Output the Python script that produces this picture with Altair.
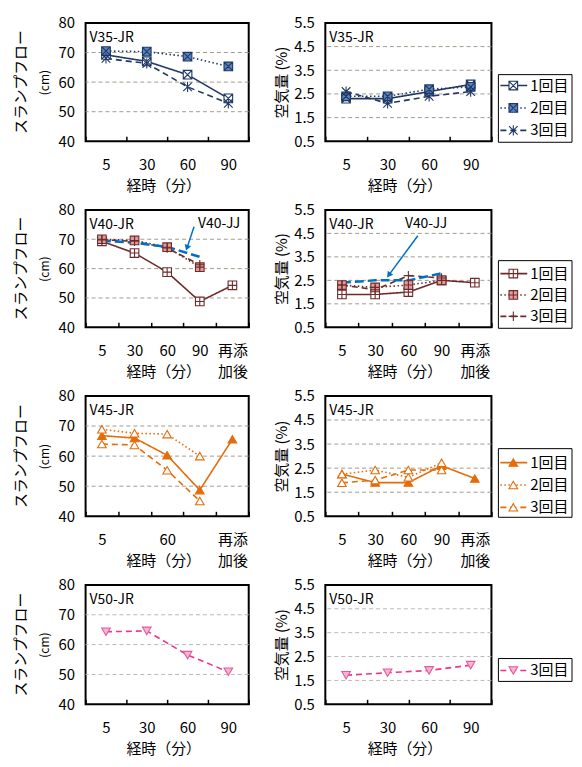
import math
import altair as alt
import pandas as pd

FONT = "Noto Sans CJK JP"

# ---------------- data ----------------
cats4 = ["5", "30", "60", "90"]
cats5 = ["5", "30", "60", "90", "再添加後"]
series = ["1回目", "2回目", "3回目"]
panel_labels = ["V35-JR", "V40-JR", "V45-JR", "V50-JR"]
jj_label = "V40-JJ"

slump_ticks = [40, 50, 60, 70, 80]
slump_grid = [50, 60, 70]
air_ticks = [0.5, 1.5, 2.5, 3.5, 4.5, 5.5]
air_grid = [1.5, 2.5, 3.5, 4.5]

v35_slump_1 = [69.2, 67.0, 62.5, 54.5]
v35_slump_2 = [70.5, 70.3, 68.6, 65.3]
v35_slump_3 = [68.0, 66.3, 58.4, 52.8]
v35_air_1 = [2.3, 2.3, 2.6, 2.9]
v35_air_2 = [2.4, 2.4, 2.7, 2.8]
v35_air_3 = [2.6, 2.1, 2.4, 2.6]

v40_slump_1 = [69.3, 65.3, 58.8, 48.8, 54.3]
v40_slump_2 = [70.0, 69.6, 67.3, 60.5]
v40_slump_3 = [69.8, 69.3, 67.0, 61.3]
v40jj_slump = [69.5, 68.8, 67.4, 64.0]
v40_air_1 = [1.9, 1.9, 2.0, 2.5, 2.4]
v40_air_2 = [2.3, 2.2, 2.3, 2.5]
v40_air_3 = [2.3, 2.1, 2.7, 2.6]
v40jj_air = [2.4, 2.5, 2.5, 2.8]

v45_slump_1 = [66.8, 66.0, 60.3, 48.7, 65.6]
v45_slump_2 = [68.9, 67.6, 67.3, 60.0]
v45_slump_3 = [64.0, 63.7, 55.3, 45.1]
v45_air_1 = [2.26, 1.9, 1.9, 2.6, 2.07]
v45_air_2 = [2.25, 2.42, 2.12, 2.72]
v45_air_3 = [1.89, 2.0, 2.42, 2.42]

v50_slump_3 = [64.3, 64.6, 56.5, 50.9]
v50_air_3 = [1.72, 1.82, 1.92, 2.14]

# ---------------- styles ----------------
DASHES = [[1, 0], [1.5, 2.5], [6, 4]]
P_XBOX = "M-1,-1H1V1H-1Z M-1,-1L1,1 M1,-1L-1,1"
P_AST = "M-1,-1L1,1 M1,-1L-1,1 M0,-1.2V1.2"
P_PBOX = "M-1,-1H1V1H-1Z M0,-1V1 M-1,0H1"
P_PLUS = "M0,-1.1V1.1 M-1.1,0H1.1"

ROWS = [
    dict(label=panel_labels[0], cats=cats4, h=119, color="#1F3864",
         fills=["#FFFFFF", "#5C83BE", "#1F3864"], shapes=[P_XBOX, P_XBOX, P_AST],
         grid="#A39A8C",
         slump={"1回目": v35_slump_1, "2回目": v35_slump_2, "3回目": v35_slump_3},
         air={"1回目": v35_air_1, "2回目": v35_air_2, "3回目": v35_air_3},
         leg=series, leg_range=[63, 108], box=(52, 120), hide=False),
    dict(label=panel_labels[1], cats=cats5, h=118, color="#6E2B2B",
         fills=["#FFFFFF", "#E39C9C", "#6E2B2B"], shapes=[P_PBOX, P_PBOX, P_PLUS],
         grid="#A39A8C",
         slump={"1回目": v40_slump_1, "2回目": v40_slump_2, "3回目": v40_slump_3},
         air={"1回目": v40_air_1, "2回目": v40_air_2, "3回目": v40_air_3},
         jj_slump=v40jj_slump, jj_air=v40jj_air,
         leg=series, leg_range=[64, 107], box=(51, 119), hide=False),
    dict(label=panel_labels[2], cats=cats5, h=121, color="#E46C0A",
         fills=["#E46C0A", "#FFFFFF", "#FFFFFF"],
         shapes=["triangle-up", "triangle-up", "triangle-up"],
         grid="#A39A8C",
         slump={"1回目": v45_slump_1, "2回目": v45_slump_2, "3回目": v45_slump_3},
         air={"1回目": v45_air_1, "2回目": v45_air_2, "3回目": v45_air_3},
         leg=series, leg_range=[67, 112], box=(53, 122), hide=True),
    dict(label=panel_labels[3], cats=cats4, h=120, color="#F0338F",
         fills=["#F7B5D5", "#F7B5D5", "#F7B5D5"],
         shapes=["triangle-down", "triangle-down", "triangle-down"],
         grid="#B8B8B8", mstroke="#E05A9C",
         slump={"3回目": v50_slump_3}, air={"3回目": v50_air_3},
         leg=["3回目"], leg_range=[86, 86], box=(74, 97), hide=False),
]

JJ_BLUE = "#0070C0"


def long_df(cats, vals_by_series):
    recs = []
    for s, vals in vals_by_series.items():
        for c, v in zip(cats, vals):
            recs.append({"cat": c, "series": s, "value": v})
    return pd.DataFrame(recs)


def arrow_layers(start, end):
    dx, dy = end[0] - start[0], end[1] - start[1]
    ang = math.degrees(math.atan2(dx, -dy)) % 360
    L = math.hypot(dx, dy)
    cx, cy = end[0] - 3 * dx / L, end[1] - 3 * dy / L
    d = pd.DataFrame({"t": [jj_label]})
    rule = alt.Chart(d).mark_rule(color=JJ_BLUE, strokeWidth=1.5).encode(
        x=alt.value(start[0]), y=alt.value(start[1]),
        x2=alt.value(cx), y2=alt.value(cy))
    head = alt.Chart(d).mark_point(shape="triangle-up", filled=True, fill=JJ_BLUE,
                                   opacity=1, size=45, angle=ang, strokeWidth=0).encode(
        x=alt.value(cx), y=alt.value(cy))
    return [rule, head]


def panel(row, kind, w):
    h = row["h"]
    cats = row["cats"]
    c = row["color"]
    if kind == "slump":
        domain, ticks, grid, fmt = [40, 80], slump_ticks, slump_grid, ".0f"
        data, jj = row["slump"], row.get("jj_slump")
        ytitle, ytsize, ytpad = "(cm)", 12, 7
    else:
        domain, ticks, grid, fmt = [0.5, 5.5], air_ticks, air_grid, ".1f"
        data, jj = row["air"], row.get("jj_air")
        ytitle, ytsize, ytpad = "空気量 (%)", 15, 4

    df = long_df(cats, data)
    base_expr = "datum.label == '再添加後' ? ['再添', '加後'] : datum.label"
    if row["hide"] and kind == "slump":
        label_expr = "(datum.label == '30' || datum.label == '90') ? '' : (" + base_expr + ")"
    else:
        label_expr = base_expr

    xaxis = alt.Axis(title="経時（分）", domain=False, ticks=True, tickSize=5,
                     tickBand="extent", tickColor="black", tickWidth=1.5, offset=-5,
                     labelAngle=0, labelFontSize=15, labelPadding=16,
                     labelBaseline="top", labelExpr=label_expr, labelLineHeight=21,
                     titleFontSize=15, titleFontWeight="normal", titleY=49,
                     titleX=w / 2 - 4, titleBaseline="middle", grid=False)
    x = alt.X("cat:N", sort=cats, bandPosition=0.5,
              scale=alt.Scale(type="band", domain=cats, paddingInner=0, paddingOuter=0),
              axis=xaxis)
    yscale = alt.Scale(domain=domain, nice=False, zero=False)
    yaxis = alt.Axis(values=ticks, format=fmt, domain=False, ticks=False, grid=False,
                     labelFontSize=15, labelPadding=11, title=ytitle,
                     titleFontSize=ytsize, titlePadding=ytpad, titleFontWeight="normal")
    y = alt.Y("value:Q", scale=yscale, axis=yaxis)
    dash = alt.StrokeDash("series:N", scale=alt.Scale(domain=series, range=DASHES), legend=None)
    shape = alt.Shape("series:N", scale=alt.Scale(domain=series, range=row["shapes"]), legend=None)
    fill = alt.Fill("series:N", scale=alt.Scale(domain=series, range=row["fills"]), legend=None)
    mstroke = row.get("mstroke", c)

    layers = [
        alt.Chart(pd.DataFrame({"value": grid})).mark_rule(
            color=row["grid"], strokeDash=[4, 3], strokeWidth=1).encode(y=y),
        alt.Chart(df).mark_line(color=c, strokeWidth=1.6).encode(
            x=x, y=y, strokeDash=dash, detail="series:N"),
    ]
    if jj is not None:
        jdf = pd.DataFrame({"cat": cats[:len(jj)], "value": jj})
        layers.append(alt.Chart(jdf).mark_line(color=JJ_BLUE, strokeWidth=2.5,
                                               strokeDash=[9, 4]).encode(x=x, y=y))
    layers.append(alt.Chart(df).mark_point(filled=True, opacity=1, stroke=mstroke,
                                           strokeWidth=1.1, size=75).encode(
        x=x, y=y, shape=shape, fill=fill))
    layers.append(alt.Chart(pd.DataFrame({"t": [row["label"]]})).mark_text(
        align="left", baseline="middle", fontSize=14, color="black").encode(
        x=alt.value(4), y=alt.value(15), text="t:N"))
    if jj is not None:
        if kind == "slump":
            tx, start, end = 113, (109, 17), (101, 41)
        else:
            tx, start, end = 80, (93, 26), (62, 68)
        layers.append(alt.Chart(pd.DataFrame({"t": [jj_label]})).mark_text(
            align="left", baseline="middle", fontSize=14, color="black").encode(
            x=alt.value(tx), y=alt.value(14), text="t:N"))
        layers += arrow_layers(start, end)

    main = alt.layer(*layers)

    if kind == "slump":
        return main.properties(
            width=w, height=h,
            title=alt.TitleParams("スランプフロー", orient="left", anchor="middle",
                                  frame="group", fontSize=15, fontWeight="normal",
                                  offset=9, font=FONT))

    # legend (drawn to the right of the air-content panel)
    leg = row["leg"]
    ldf = pd.DataFrame({"series": leg})
    lscale = alt.Scale(type="point", domain=leg, range=row["leg_range"], padding=0)
    ly = alt.Y("series:N", scale=lscale, axis=None)
    b0, b1 = row["box"]
    legend = alt.layer(
        alt.Chart(ldf.head(1)).mark_rect(fill="white", stroke="black", strokeWidth=1).encode(
            x=alt.value(w + 7), x2=alt.value(w + 81), y=alt.value(b0), y2=alt.value(b1)),
        alt.Chart(ldf).mark_rule(color=c, strokeWidth=1.6).encode(
            x=alt.value(w + 9), x2=alt.value(w + 36), y=ly, strokeDash=dash),
        alt.Chart(ldf).mark_point(filled=True, opacity=1, stroke=mstroke,
                                  strokeWidth=1.1, size=75).encode(
            x=alt.value(w + 22), y=ly, shape=shape, fill=fill),
        alt.Chart(ldf).mark_text(align="left", baseline="middle", fontSize=15,
                                 color="black").encode(
            x=alt.value(w + 39), y=ly, text="series:N"),
    )
    return alt.layer(main, legend).resolve_scale(y="independent").properties(width=w, height=h)


panels = []
for r in ROWS:
    panels.append(panel(r, "slump", 164))
    panels.append(panel(r, "air", 167))

chart = alt.concat(*panels, columns=2, spacing={"row": 69, "column": 77},
                   bounds="flush", align="each").resolve_scale(
    shape="independent", fill="independent", strokeDash="independent"
).properties(
    padding={"left": 5, "top": 5, "right": 0, "bottom": 0}
).configure(font=FONT).configure_view(stroke="black", strokeWidth=2).configure_axis(
    labelColor="black", titleColor="black", labelFont=FONT, titleFont=FONT)

chart.save("out.html", embed_options={"renderer": "svg", "actions": False})
